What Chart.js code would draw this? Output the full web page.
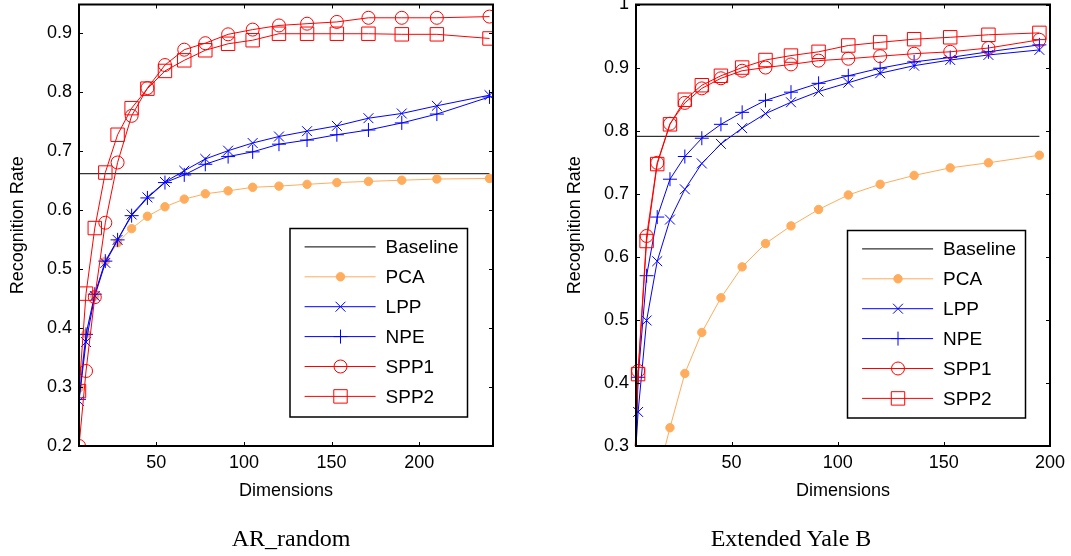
<!DOCTYPE html>
<html><head><meta charset="utf-8">
<script src="https://cdn.jsdelivr.net/npm/chart.js@4.4.0/dist/chart.umd.min.js"></script>
<style>
html,body{margin:0;padding:0;background:#fff;}
#wrap{position:relative;width:1071px;height:556px;overflow:hidden;background:#fff;}
#c1{position:absolute;left:0;top:-6px;width:535px;height:562px;}
#c2{position:absolute;left:535px;top:-6px;width:536px;height:562px;}
.cap{position:absolute;top:524px;line-height:28px;font-family:"Liberation Serif","Times New Roman",serif;font-size:24px;color:#000;transform:translateX(-50%);white-space:nowrap;}
</style></head>
<body>
<div id="wrap">
<canvas id="c1" width="535" height="562"></canvas>
<canvas id="c2" width="536" height="562"></canvas>
<div class="cap" style="left:291px">AR_random</div>
<div class="cap" style="left:791px">Extended Yale B</div>
</div>
<script>
// ---------------- data: AR_random ----------------
const dimsAR = [6,10,15,21,28,36,45,55,66,78,91,105,120,136,153,171,190,210,240];
const baselineAR = 0.661;
const pcaAR  = [0.298,0.390,0.454,0.513,0.544,0.568,0.589,0.605,0.618,0.627,0.632,0.638,0.640,0.643,0.646,0.648,0.650,0.652,0.653];
const lppAR  = [0.276,0.376,0.454,0.510,0.549,0.592,0.621,0.647,0.666,0.686,0.700,0.713,0.724,0.733,0.742,0.755,0.763,0.776,0.794];
const npeAR  = [0.279,0.389,0.457,0.513,0.549,0.590,0.620,0.646,0.659,0.677,0.690,0.698,0.711,0.718,0.727,0.735,0.747,0.762,0.791];
const spp1AR = [0.200,0.327,0.452,0.578,0.680,0.759,0.806,0.845,0.871,0.882,0.897,0.905,0.912,0.915,0.918,0.925,0.925,0.925,0.927];
const spp2AR = [0.293,0.458,0.569,0.663,0.727,0.772,0.805,0.835,0.853,0.870,0.881,0.887,0.898,0.898,0.898,0.898,0.897,0.897,0.890];
const xTicksAR = [50,100,150,200];
const yTicksAR = [0.2,0.3,0.4,0.5,0.6,0.7,0.8,0.9];
const yLabelsAR = ['0.2','0.3','0.4','0.5','0.6','0.7','0.8','0.9'];

// ---------------- data: Extended Yale B ----------------
const dimsYB = [3,6,10,15,21,28,36,45,55,66,78,91,105,120,136,153,171,195];
const baselineYB = 0.791;
const pcaYB  = [null,null,null,0.250,0.329,0.415,0.480,0.535,0.584,0.621,0.649,0.675,0.698,0.715,0.729,0.741,0.749,0.761];
const lppYB  = [0.190,0.354,0.499,0.593,0.659,0.707,0.748,0.779,0.804,0.827,0.845,0.862,0.876,0.891,0.903,0.912,0.920,0.928];
const npeYB  = [0.080,0.409,0.570,0.663,0.723,0.759,0.788,0.810,0.829,0.848,0.861,0.875,0.887,0.899,0.909,0.916,0.925,0.936];
const spp1YB = [0.153,0.419,0.633,0.749,0.811,0.844,0.867,0.883,0.895,0.900,0.905,0.911,0.914,0.918,0.922,0.925,0.931,0.944];
const spp2YB = [0.150,0.414,0.625,0.747,0.810,0.849,0.872,0.887,0.900,0.912,0.919,0.925,0.935,0.940,0.945,0.948,0.952,0.955];
const xTicksYB = [50,100,150,200];
const yTicksYB = [0.3,0.4,0.5,0.6,0.7,0.8,0.9,1.0];
const yLabelsYB = ['0.3','0.4','0.5','0.6','0.7','0.8','0.9','1'];

const seriesNames = ['Baseline','PCA','LPP','NPE','SPP1','SPP2'];

// ---------------- styling ----------------
const RED = '#ff0000', BLUE = '#0000ff', ORANGE = 'rgb(255,172,92)', BLACK = '#000000';
const FONT = '"Liberation Sans", Arial, sans-serif';
Chart.defaults.font.family = FONT;
Chart.defaults.color = '#000';

function pts(dims, vals){ return dims.map((d,i)=>({x:d, y:vals[i]})); }

function makeDatasets(dims, base, pca, lpp, npe, s1, s2, clipObj){
  const common = {showLine:true, tension:0, borderWidth:1, pointBorderWidth:1, spanGaps:false};
  const c = clipObj ? {clip: clipObj} : {};
  return [
    Object.assign({}, common, {label:seriesNames[0], data:[{x:dims[0],y:base},{x:dims[dims.length-1],y:base}],
      borderColor:BLACK, pointRadius:0, order:6, clip: clipObj ? {left:0,top:0,right:0,bottom:0} : undefined, mk:null}),
    Object.assign({}, common, c, {label:seriesNames[1], data:pts(dims,pca), borderColor:ORANGE,
      pointStyle:'circle', pointRadius:4.2, pointBackgroundColor:ORANGE, pointBorderColor:ORANGE, order:5, mk:{s:'circle',r:4.2,fill:true}}),
    Object.assign({}, common, c, {label:seriesNames[2], data:pts(dims,lpp), borderColor:BLUE,
      pointStyle:'crossRot', pointRadius:7, pointBorderColor:BLUE, order:4, mk:{s:'crossRot',r:7}}),
    Object.assign({}, common, c, {label:seriesNames[3], data:pts(dims,npe), borderColor:BLUE,
      pointStyle:'cross', pointRadius:7, pointBorderColor:BLUE, order:3, mk:{s:'cross',r:7}}),
    Object.assign({}, common, c, {label:seriesNames[4], data:pts(dims,s1), borderColor:RED,
      pointStyle:'circle', pointRadius:6.5, pointBackgroundColor:'rgba(0,0,0,0)', pointBorderColor:RED, order:2, mk:{s:'circle',r:6.5}}),
    Object.assign({}, common, c, {label:seriesNames[5], data:pts(dims,s2), borderColor:RED,
      pointStyle:'rect', pointRadius:9.5, pointBackgroundColor:'rgba(0,0,0,0)', pointBorderColor:RED, order:1, mk:{s:'rect',r:9.5}})
  ];
}

function drawMarker(ctx, mk, x, y, color){
  if(!mk) return;
  ctx.save();
  ctx.strokeStyle = color; ctx.fillStyle = color; ctx.lineWidth = 1;
  ctx.beginPath();
  const r = mk.r;
  if(mk.s === 'circle'){ ctx.arc(x,y,r,0,Math.PI*2); if(mk.fill) ctx.fill(); ctx.stroke(); }
  else if(mk.s === 'rect'){ const s=r*Math.SQRT1_2; ctx.rect(x-s,y-s,2*s,2*s); ctx.stroke(); }
  else if(mk.s === 'cross'){ ctx.moveTo(x-r,y); ctx.lineTo(x+r,y); ctx.moveTo(x,y-r); ctx.lineTo(x,y+r); ctx.stroke(); }
  else if(mk.s === 'crossRot'){ const d=r*Math.SQRT1_2; ctx.moveTo(x-d,y-d); ctx.lineTo(x+d,y+d); ctx.moveTo(x-d,y+d); ctx.lineTo(x+d,y-d); ctx.stroke(); }
  ctx.restore();
}

const framePlugin = {
  id:'frame',
  afterDatasetsDraw(chart, args, opts){
    const {ctx, chartArea:a} = chart;
    const xs = chart.scales.x, ys = chart.scales.y;
    ctx.save();
    ctx.strokeStyle = '#000'; ctx.lineWidth = 1;
    const tl = 4;
    ctx.beginPath();
    xs.ticks.forEach(t=>{ const px = Math.round(xs.getPixelForValue(t.value))+0.5;
      ctx.moveTo(px,a.bottom); ctx.lineTo(px,a.bottom-tl); ctx.moveTo(px,a.top); ctx.lineTo(px,a.top+tl); });
    ys.ticks.forEach(t=>{ const py = Math.round(ys.getPixelForValue(t.value))+0.5;
      ctx.moveTo(a.left,py); ctx.lineTo(a.left+tl,py); ctx.moveTo(a.right,py); ctx.lineTo(a.right-tl,py); });
    ctx.stroke();
    ctx.lineWidth = 2;
    ctx.strokeRect(a.left, a.top, a.right-a.left, a.bottom-a.top);
    // legend box
    const L = opts;
    const bx = a.right - L.right - L.w, by = a.bottom - L.bottom - L.h;
    ctx.fillStyle = '#fff'; ctx.fillRect(bx,by,L.w,L.h);
    ctx.lineWidth = 1.5; ctx.strokeStyle = '#000';
    ctx.strokeRect(bx,by,L.w,L.h);
    chart.data.datasets.forEach((ds,i)=>{
      const yy = by + 18.4 + i*29.9;
      ctx.strokeStyle = ds.borderColor; ctx.lineWidth = 1;
      ctx.beginPath(); ctx.moveTo(bx+14.6, yy); ctx.lineTo(bx+85.6, yy); ctx.stroke();
      drawMarker(ctx, ds.mk, bx+50.5, yy, ds.borderColor);
      ctx.fillStyle = '#000'; ctx.font = '19px ' + FONT;
      ctx.textAlign = 'left'; ctx.textBaseline = 'middle';
      ctx.fillText(ds.label, bx+95.6, yy+1);
    });
    ctx.restore();
  }
};

function makeChart(canvasId, datasets, xr, yr, xTicks, yTicks, yLabels, pad, legendOpts){
  return new Chart(document.getElementById(canvasId), {
    type:'scatter',
    data:{datasets},
    plugins:[framePlugin],
    options:{
      responsive:false, animation:false, devicePixelRatio:1, events:[],
      layout:{padding:pad},
      plugins:{legend:{display:false}, tooltip:{enabled:false}, frame:legendOpts},
      scales:{
        x:{type:'linear', min:xr[0], max:xr[1],
          afterBuildTicks(s){ s.ticks = xTicks.map(v=>({value:v})); },
          afterFit(s){ s.height = 60; s.paddingLeft = 0; s.paddingRight = 0; },
          grid:{display:false, drawTicks:false}, border:{display:false},
          ticks:{font:{size:18}, color:'#000', padding:6, maxRotation:0, callback:(v)=>String(v)},
          title:{display:true, text:'Dimensions', font:{size:18}, color:'#000', padding:{top:0,bottom:4}}
        },
        y:{type:'linear', min:yr[0], max:yr[1],
          afterBuildTicks(s){ s.ticks = yTicks.map(v=>({value:v})); },
          afterFit(s){ s.width = 79; s.paddingTop = 0; s.paddingBottom = 0; },
          grid:{display:false, drawTicks:false}, border:{display:false},
          ticks:{font:{size:18}, color:'#000', padding:7, callback:(v,i)=>yLabels[i]},
          title:{display:true, text:'Recognition Rate', font:{size:18}, color:'#000', padding:{top:7,bottom:0}}
        }
      }
    }
  });
}

makeChart('c1',
  makeDatasets(dimsAR, baselineAR, pcaAR, lppAR, npeAR, spp1AR, spp2AR, null),
  [6,242],[0.2,0.9475], xTicksAR, yTicksAR, yLabelsAR,
  {left:0,right:42,top:0,bottom:50},
  {right:25.5,bottom:29,w:177.5,h:188.5});

makeChart('c2',
  makeDatasets(dimsYB, baselineYB, pcaYB, lppYB, npeYB, spp1YB, spp2YB, {left:8,top:10,right:10,bottom:0}),
  [5,200],[0.3,1.0], xTicksYB, yTicksYB, yLabelsYB,
  {left:22,right:21,top:0,bottom:50},
  {right:24.5,bottom:28,w:178,h:187.5});
</script>
</body></html>
